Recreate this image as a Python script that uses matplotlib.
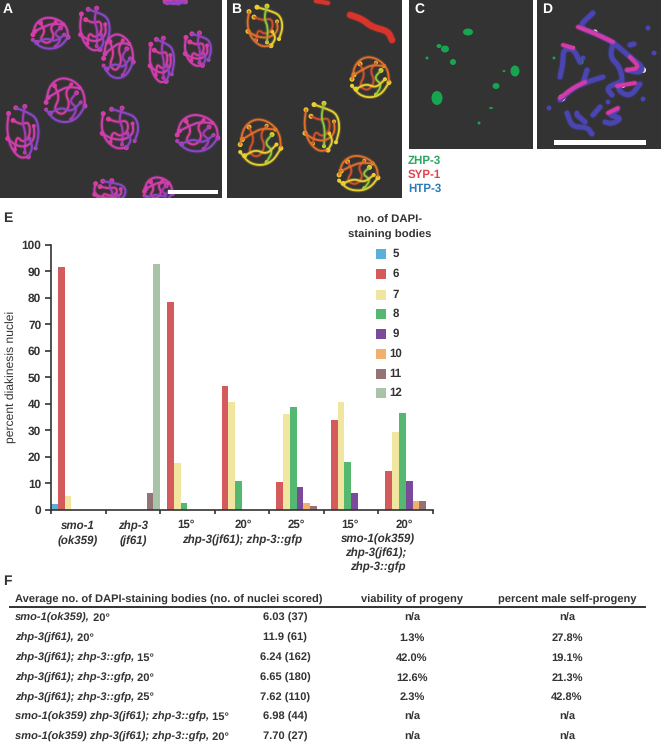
import numpy as np
import matplotlib
matplotlib.use('Agg')
import matplotlib.pyplot as plt
from matplotlib.patches import Ellipse, Rectangle

plt.rcParams['font.family'] = ['Liberation Sans', 'DejaVu Sans']
plt.rcParams['text.hinting'] = 'none'
plt.rcParams['text.hinting_factor'] = 8

# datos del panel E
grupos = ['smo-1', 'zhp-3', '15', '20', '25', 'smo15', 'smo20']
cuerpos = ['5', '6', '7', '8', '9', '10', '11', '12']
colores = ['#5BB0D8', '#D45A5C', '#F0E6A0', '#55B870', '#7B4A9A', '#F2B06A', '#957274', '#A9C3A9']
v5 = [2.2, 0, 0, 0, 0, 0, 0]
v6 = [91.5, 0, 78.5, 46.8, 10.5, 33.7, 14.5]
v7 = [5.0, 0, 17.5, 40.6, 36.0, 40.5, 29.2]
v8 = [0, 0, 2.7, 10.8, 38.7, 18.0, 36.6]
v9 = [0, 0, 0, 0, 8.7, 6.4, 10.8]
v10 = [0, 0, 0, 0, 2.4, 0, 3.2]
v11 = [0, 6.2, 0, 0, 1.4, 0, 3.2]
v12 = [0, 93.0, 0, 0, 0, 0, 0]
series = [v5, v6, v7, v8, v9, v10, v11, v12]
yticks = [0, 10, 20, 30, 40, 50, 60, 70, 80, 90, 100]

# datos del panel F
encabezado = ['Average no. of DAPI-staining bodies (no. of nuclei scored)', 'viability of progeny', 'percent male self-progeny']
filas_cepa = [
    ('smo-1(ok359),', ' 20°'),
    ('zhp-3(jf61),', ' 20°'),
    ('zhp-3(jf61); zhp-3::gfp,', ' 15°'),
    ('zhp-3(jf61); zhp-3::gfp,', ' 20°'),
    ('zhp-3(jf61); zhp-3::gfp,', ' 25°'),
    ('smo-1(ok359) zhp-3(jf61); zhp-3::gfp,', ' 15°'),
    ('smo-1(ok359) zhp-3(jf61); zhp-3::gfp,', ' 20°'),
]
promedios = ['6.03 (37)', '11.9 (61)', '6.24 (162)', '6.65 (180)', '7.62 (110)', '6.98 (44)', '7.70 (27)']
viabilidad = ['n/a', '1.3%', '42.0%', '12.6%', '2.3%', 'n/a', 'n/a']
machos = ['n/a', '27.8%', '19.1%', '21.3%', '42.8%', 'n/a', 'n/a']

# micrografias: hebras de un nucleo en unidades del radio
hebras1 = [
    [(-0.9, 0.1), (-0.75, -0.6), (-0.2, -0.95), (0.45, -0.8), (0.9, -0.35), (0.95, 0.25)],
    [(0.95, 0.25), (0.6, 0.75), (0.1, 0.95), (-0.5, 0.85), (-0.9, 0.4)],
    [(-0.5, -0.6), (-0.25, -0.1), (-0.55, 0.4), (-0.1, 0.65), (0.25, 0.2), (0.0, -0.3), (0.3, -0.65)],
    [(0.55, -0.3), (0.2, 0.05), (0.6, 0.35), (0.3, 0.8)],
    [(-0.8, -0.1), (-0.35, -0.35), (0.1, -0.55), (0.7, -0.5)],
    [(-0.7, 0.55), (-0.2, 0.3), (0.3, 0.5), (0.75, 0.1)],
]
hebras2 = [
    [(-0.8, -0.7), (-0.9, -0.1), (-0.7, 0.5), (-0.2, 0.9), (0.3, 0.85)],
    [(-0.4, -0.9), (0.2, -0.75), (0.75, -0.55), (0.9, 0.0), (0.7, 0.55)],
    [(-0.55, -0.45), (-0.1, -0.3), (0.35, -0.4), (0.4, 0.1), (0.0, 0.35), (-0.35, 0.1), (-0.45, 0.6)],
    [(0.1, -0.95), (-0.05, -0.4), (0.15, 0.0), (0.1, 0.7)],
    [(-0.85, 0.2), (-0.4, 0.45), (0.2, 0.5), (0.65, 0.2), (0.6, -0.25)],
    [(0.3, 0.85), (0.55, 0.5), (0.35, 0.2)],
]
plantillas = [hebras1, hebras2]
# (x, y, radio x, radio y, plantilla)
nucleos_a = [(50, 33, 19, 17, 0), (95, 30, 17, 23, 1), (118, 56, 16, 24, 0), (162, 61, 14, 24, 1), (198, 50, 15, 18, 1),
             (65, 100, 21, 24, 0), (23, 133, 18, 28, 1), (120, 129, 21, 22, 1), (197, 133, 22, 20, 0),
             (110, 192, 18, 12, 1), (158, 190, 15, 14, 0), (175, 1, 11, 3, 0)]
nucleos_b = [(265, 27, 20, 22, 1), (370, 77, 20, 22, 0), (260, 142, 22, 25, 0), (322, 128, 20, 26, 1), (358, 173, 21, 19, 0)]
mancha_b = [(350, 15), (362, 19), (372, 27), (388, 31), (392, 40)]
mancha_b2 = [(316, 1), (328, 3)]
puntos_c = [(468, 32, 10, 7), (445, 49, 8, 7), (439, 46, 5, 4), (453, 62, 6, 6), (515, 71, 9, 11), (496, 86, 7, 6),
            (437, 98, 11, 14), (491, 108, 4, 2), (479, 123, 3, 3), (427, 58, 3, 3), (504, 71, 3, 2)]
azul_d = [
    [(593, 13), (578, 27), (594, 33), (613, 42), (630, 57), (643, 67), (640, 73), (627, 70)],
    [(560, 77), (563, 63), (563, 50), (573, 48), (580, 62)],
    [(560, 100), (573, 88), (587, 82), (603, 77)],
    [(587, 70), (583, 83)],
    [(613, 43), (610, 57), (620, 67), (623, 83), (617, 90), (630, 97), (640, 84)],
    [(567, 113), (572, 127), (587, 127), (592, 134)],
    [(593, 115), (600, 107)],
    [(577, 115), (585, 122)],
    [(617, 110), (608, 115), (622, 118), (612, 124), (605, 122)],
    [(630, 45), (634, 44)],
    [(620, 82), (606, 88), (612, 95)],
]
lunares_d = [(648, 28), (654, 53), (643, 99), (549, 108), (583, 58), (577, 113), (608, 102)]
magenta_d = [
    [(578, 27), (594, 33), (613, 42)],
    [(563, 45), (573, 48)],
    [(560, 98), (573, 88), (585, 82)],
    [(627, 70), (640, 68), (630, 57)],
    [(617, 86), (623, 85), (635, 83)],
    [(608, 113), (618, 108)],
]
blanco_d = [(595, 32, 5), (573, 48, 4), (562, 98, 7), (643, 70, 6), (623, 86, 4)]

fig = plt.figure(figsize=(6.61, 7.46), dpi=100)
lienzo = fig.add_axes([0, 0, 1, 1])
lienzo.set_xlim(0, 661)
lienzo.set_ylim(746, 0)
lienzo.axis('off')

# fondos de los paneles
for x0, x1, y1 in [(0, 222, 198), (227, 402, 198), (409, 533, 149), (537, 661, 149)]:
    lienzo.add_patch(Rectangle((x0, 0), x1 - x0, y1, color='#333333', lw=0))


# suaviza una polilinea recortando esquinas
def suaviza(puntos, pasadas=3):
    pts = np.array(puntos, dtype=float)
    for _ in range(pasadas):
        q = 0.75 * pts[:-1] + 0.25 * pts[1:]
        r = 0.25 * pts[:-1] + 0.75 * pts[1:]
        nuevo = np.empty((len(q) * 2, 2))
        nuevo[0::2] = q
        nuevo[1::2] = r
        pts = np.vstack([pts[0], nuevo, pts[-1]])
    return pts


def dibuja_linea(puntos, color, ancho):
    pts = suaviza(puntos)
    lienzo.plot(pts[:, 0], pts[:, 1], color=color, lw=ancho + 1.5, alpha=0.25, solid_capstyle='round')
    lienzo.plot(pts[:, 0], pts[:, 1], color=color, lw=ancho, solid_capstyle='round', solid_joinstyle='round')


def dibuja_nucleo(nucleo, paleta, ancho, cuenta):
    x, y, rx, ry, k = nucleo
    for i, hebra in enumerate(plantillas[k]):
        pts = [(x + rx * a, y + ry * b) for a, b in hebra]
        dibuja_linea(pts, paleta[i % len(paleta)], ancho)
        lienzo.add_patch(Ellipse(pts[0], 5, 5, color=cuenta, lw=0))
        lienzo.add_patch(Ellipse(pts[-1], 4, 4, color=cuenta, lw=0))


paleta_a = ['#D03FB0', '#8A48C8', '#D93DA0', '#A23CB8']
paleta_b = ['#E0702A', '#E8D030', '#D0502A', '#90C83C']
for n in nucleos_a:
    dibuja_nucleo(n, paleta_a, 1.4, '#DA3C9C')
for n in nucleos_b:
    dibuja_nucleo(n, paleta_b, 1.3, '#EFD22C')
dibuja_linea(mancha_b, '#D8342C', 4.5)
dibuja_linea(mancha_b2, '#D8342C', 3.0)
for x, y, w, h in puntos_c:
    lienzo.add_patch(Ellipse((x, y), w, h, color='#17A550', lw=0))

for hebra in azul_d:
    dibuja_linea(hebra, '#4A45B0', 3.6)
for x, y in lunares_d:
    lienzo.add_patch(Ellipse((x, y), 5, 5, color='#4A45B0', lw=0))
for hebra in magenta_d:
    dibuja_linea(hebra, '#D43AA8', 2.8)
for x, y, d in blanco_d:
    lienzo.add_patch(Ellipse((x, y), d, d, color='#FFFFFF', lw=0))
lienzo.add_patch(Ellipse((581, 62), 5, 5, color='#17A070', lw=0))
lienzo.add_patch(Ellipse((554, 58), 3, 3, color='#17A050', lw=0))

# tapar lo que sale de los paneles
for x0, x1, y0, y1 in [(222, 227, 0, 198), (402, 409, 0, 200), (533, 537, 0, 149), (0, 409, 198, 206), (402, 661, 149, 205)]:
    lienzo.add_patch(Rectangle((x0, y0), x1 - x0, y1 - y0, color='white', lw=0, zorder=3))

# barras de escala y letras
lienzo.add_patch(Rectangle((168, 190), 50, 3.5, color='white', lw=0, zorder=4))
lienzo.add_patch(Rectangle((554, 140), 92, 5, color='white', lw=0, zorder=4))
for letra, x in [('A', 3), ('B', 231), ('C', 414), ('D', 542)]:
    lienzo.text(x, 9, letra, color='white', fontsize=10, fontweight='bold', va='center', zorder=5)
for letra, y in [('E', 218), ('F', 581)]:
    lienzo.text(3, y, letra, color='#333333', fontsize=10, fontweight='bold', va='center')

for nombre, color, y in [('ZHP-3', '#2BA860', 161), ('SYP-1', '#DC4650', 175), ('HTP-3', '#2B7DB8', 189)]:
    lienzo.text(408, y, nombre, color=color, fontsize=8.3, fontweight='bold', va='center')

# panel E
ax = fig.add_axes([51 / 661, 1 - 509.7 / 746, (433 - 51) / 661, (509.7 - 245) / 746])
ax.patch.set_alpha(0)
posiciones = np.arange(len(grupos))
for i, valores in enumerate(series):
    ax.bar(posiciones + (i + 0.5) / 8, valores, width=1 / 8, color=colores[i], lw=0)
ax.set_xlim(0, len(grupos))
ax.set_ylim(0, 100)
ax.set_yticks(yticks)
ax.set_xticks(np.arange(len(grupos) + 1))
ax.set_xticklabels([])
ax.spines['top'].set_visible(False)
ax.spines['right'].set_visible(False)
ax.spines['left'].set_linewidth(1.2)
ax.spines['bottom'].set_linewidth(1.2)
ax.spines['left'].set_color('#333333')
ax.spines['bottom'].set_color('#333333')
ax.tick_params(axis='y', length=4, width=1.2, color='#333333', labelsize=8.6, labelcolor='#333333', pad=3)
ax.tick_params(axis='x', length=3, width=1.2, color='#333333')
for t in ax.get_yticklabels():
    t.set_fontweight('bold')
lienzo.text(11, 377, 'percent diakinesis nuclei', rotation=90, ha='center', va='center', fontsize=8.7, color='#333333')

etiquetas_x = [
    (78, 526, 'smo-1', 'italic'), (78, 541, '(ok359)', 'italic'),
    (133, 526, 'zhp-3', 'italic'), (133, 541, '(jf61)', 'italic'),
    (186, 525, '15°', 'normal'), (243, 525, '20°', 'normal'), (296, 525, '25°', 'normal'),
    (242, 540, 'zhp-3(jf61); zhp-3::gfp', 'italic'),
    (350, 525, '15°', 'normal'), (404, 525, '20°', 'normal'),
    (378, 539, 'smo-1(ok359)', 'italic'), (376, 553, 'zhp-3(jf61);', 'italic'), (378, 567, 'zhp-3::gfp', 'italic'),
]
for x, y, texto, estilo in etiquetas_x:
    lienzo.text(x, y, texto, ha='center', va='center', fontsize=8.3, fontweight='bold', style=estilo, color='#333333')

# leyenda
lienzo.text(390, 220.5, 'no. of DAPI-', ha='center', va='center', fontsize=8.2, fontweight='bold', color='#333333')
lienzo.text(390, 234.5, 'staining bodies', ha='center', va='center', fontsize=8.2, fontweight='bold', color='#333333')
y_leyenda = [254, 274, 295, 314, 334, 354, 374, 393]
for nombre, color, y in zip(cuerpos, colores, y_leyenda):
    lienzo.add_patch(Rectangle((375.7, y - 5), 10, 10, color=color, lw=0))
    lienzo.text(395.5, y, nombre, ha='center', va='center', fontsize=8.3, fontweight='bold', color='#333333')

# panel F
tam = 8.05
lienzo.text(15, 600, encabezado[0], ha='left', va='center', fontsize=tam, fontweight='bold', color='#333333')
lienzo.text(412, 600, encabezado[1], ha='center', va='center', fontsize=tam, fontweight='bold', color='#333333')
lienzo.text(567, 600, encabezado[2], ha='center', va='center', fontsize=tam, fontweight='bold', color='#333333')
lienzo.plot([10, 645], [607, 607], color='#333333', lw=1.4)
fig.canvas.draw()
render = fig.canvas.get_renderer()
for i, (cepa, temp) in enumerate(filas_cepa):
    y = 618 + i * 19.85
    t = lienzo.text(15, y, cepa, ha='left', va='center', fontsize=tam, fontweight='bold', style='italic', color='#333333')
    caja = t.get_window_extent(render)
    lienzo.text(caja.x1, y, temp, ha='left', va='center', fontsize=tam, fontweight='bold', color='#333333')
    lienzo.text(285, y, promedios[i], ha='center', va='center', fontsize=tam, fontweight='bold', color='#333333')
    lienzo.text(412, y, viabilidad[i], ha='center', va='center', fontsize=tam, fontweight='bold', color='#333333')
    lienzo.text(567, y, machos[i], ha='center', va='center', fontsize=tam, fontweight='bold', color='#333333')

fig.savefig('out.png', dpi=100)
